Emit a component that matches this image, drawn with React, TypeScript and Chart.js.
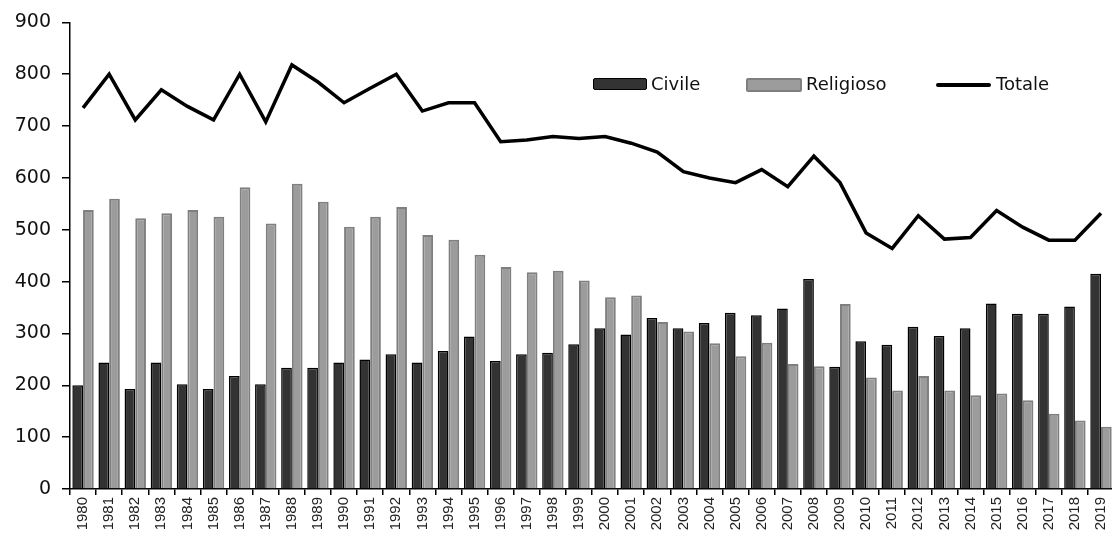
import React, { useEffect, useRef } from "react";
import { Chart, registerables } from "chart.js";

Chart.register(...registerables);

const years = [
  "1980","1981","1982","1983","1984","1985","1986","1987","1988","1989",
  "1990","1991","1992","1993","1994","1995","1996","1997","1998","1999",
  "2000","2001","2002","2003","2004","2005","2006","2007","2008","2009",
  "2010","2011","2012","2013","2014","2015","2016","2017","2018","2019",
];

const civile = [
  200, 244, 193, 244, 202, 193, 218, 202, 234, 234,
  244, 250, 260, 244, 266, 294, 247, 260, 263, 279,
  310, 298, 330, 310, 320, 340, 335, 348, 405, 236,
  285, 278, 313, 295, 310, 358, 338, 338, 352, 415,
];

const religioso = [
  538, 560, 522, 532, 538, 525, 582, 512, 589, 554,
  506, 525, 544, 490, 481, 452, 428, 418, 421, 402,
  370, 373, 322, 304, 281, 256, 282, 241, 237, 357,
  215, 190, 218, 190, 181, 184, 171, 145, 132, 120,
];

const totale = [
  735, 800, 712, 770, 738, 712, 800, 708, 818, 785,
  745, 773, 800, 729, 745, 745, 670, 673, 680, 676,
  680, 667, 650, 612, 600, 591, 616, 583, 642, 591,
  494, 464, 527, 482, 485, 537, 505, 480, 480, 532,
];

const yMin = 0;
const yMax = 900;
const yStep = 100;

const legendFont = "'DejaVu Sans', Verdana, sans-serif";
const CANVAS_W = 1121;

export default function App() {
  const canvasRef = useRef<HTMLCanvasElement | null>(null);

  useEffect(() => {
    if (!canvasRef.current) return;
    const chart = new Chart(canvasRef.current, {
      type: "bar",
      data: {
        labels: years,
        datasets: [
          {
            type: "line",
            label: "Totale",
            data: totale,
            borderColor: "#000000",
            borderWidth: 3.5,
            pointRadius: 0,
            tension: 0,
            order: 0,
          },
          {
            type: "bar",
            label: "Civile",
            data: civile,
            backgroundColor: "#333333",
            borderColor: "#000000",
            borderWidth: 1.5,
            categoryPercentage: 0.82,
            barPercentage: 1.0,
            order: 1,
          },
          {
            type: "bar",
            label: "Religioso",
            data: religioso,
            backgroundColor: "#9c9c9c",
            borderColor: "#7f7f7f",
            borderWidth: 2,
            categoryPercentage: 0.82,
            barPercentage: 1.0,
            order: 1,
          },
        ],
      },
      options: {
        animation: false,
        responsive: false,
        maintainAspectRatio: false,
        layout: { padding: { top: 22, right: 0, left: 0, bottom: 0 } },
        plugins: {
          legend: { display: false },
          tooltip: { enabled: false },
        },
        scales: {
          x: {
            offset: true,
            grid: {
              display: true,
              offset: true,
              drawOnChartArea: false,
              drawTicks: true,
              tickLength: 6,
              color: "#000000",
              lineWidth: 1.5,
            },
            border: { display: true, color: "#000000", width: 1.5 },
            ticks: {
              minRotation: 90,
              maxRotation: 90,
              autoSkip: false,
              padding: 2,
              color: "#222222",
              font: { family: "'Liberation Sans', Arial, sans-serif", size: 15 },
            },
            afterFit: (scale: any) => {
              scale.height = 50;
            },
          },
          y: {
            min: yMin,
            max: yMax,
            grid: {
              display: true,
              drawOnChartArea: false,
              drawTicks: true,
              tickLength: 8,
              color: "#000000",
              lineWidth: 1.5,
            },
            border: { display: true, color: "#000000", width: 1.5 },
            ticks: {
              stepSize: yStep,
              padding: 11,
              color: "#111111",
              font: { family: legendFont, size: 19 },
            },
            afterFit: (scale: any) => {
              scale.width = 70;
            },
          },
        },
      },
    });
    return () => chart.destroy();
  }, []);

  const textStyle: React.CSSProperties = {
    position: "absolute",
    top: 73,
    fontFamily: legendFont,
    fontSize: 18,
    color: "#111111",
    lineHeight: "22px",
    whiteSpace: "nowrap",
  };

  return (
    <div style={{ position: "fixed", left: 0, top: 0, width: 1112, height: 539, overflow: "hidden", background: "#ffffff" }}>
      <canvas ref={canvasRef} width={CANVAS_W} height={539} style={{ display: "block", width: CANVAS_W, height: 539 }} />
      <div style={{ position: "absolute", left: 593, top: 78, width: 52, height: 10, background: "#333333", border: "1.5px solid #000000", borderRadius: 2 }} />
      <div style={{ ...textStyle, left: 651 }}>Civile</div>
      <div style={{ position: "absolute", left: 746, top: 78, width: 52, height: 10, background: "#9c9c9c", border: "2px solid #7f7f7f", borderRadius: 2 }} />
      <div style={{ ...textStyle, left: 806 }}>Religioso</div>
      <div style={{ position: "absolute", left: 936, top: 83, width: 55, height: 4, background: "#000000", borderRadius: 2 }} />
      <div style={{ ...textStyle, left: 996 }}>Totale</div>
    </div>
  );
}
